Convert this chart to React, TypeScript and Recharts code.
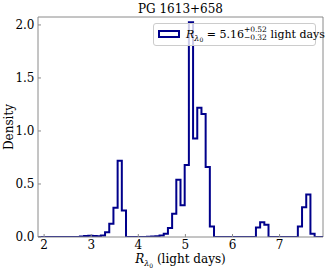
import React from "react";
import {
  LineChart,
  Line,
  XAxis,
  YAxis,
  ReferenceLine,
  Legend,
  Label,
} from "recharts";

// histogram of R_lambda0 (68 equal bins)
const BIN_START = 1.87;
const BIN_WIDTH = 0.089;
const densities = [
  0, 0, 0, 0, 0, 0, 0, 0, 0, 0,
  0.005, 0.01, 0.012, 0.01, 0.006, 0.015,
  0.045, 0.125, 0.275, 0.72, 0.25,
  0, 0, 0, 0, 0, 0.003, 0.005, 0.008,
  0.015, 0.03, 0.085, 0.22, 0.54, 0.3, 0.68, 2.025, 0.93, 1.22, 1.16, 0.66, 0.1,
  0, 0, 0, 0, 0, 0, 0, 0, 0, 0,
  0.09, 0.14, 0.115,
  0, 0, 0, 0, 0, 0, 0,
  0.1, 0.28, 0.4, 0.03, 0, 0,
];

const xTicks = [2, 3, 4, 5, 6, 7];
const yTicks = [0, 0.5, 1, 1.5, 2];
const X_MIN = BIN_START;
const X_MAX = BIN_START + densities.length * BIN_WIDTH;
const Y_MAX = 2.075;

const LINE = "#00008b";
const SPINE = "#8a8a8a";
const FONT = "'DejaVu Serif', serif";

// step outline: one point per left edge, plus the last right edge
const stepData = [
  ...densities.map((d, i) => ({ x: BIN_START + i * BIN_WIDTH, y: d })),
  { x: X_MAX, y: densities[densities.length - 1] },
];

function LegendBox() {
  return (
    <div
      style={{
        position: "relative",
        width: 163,
        height: 23,
        boxSizing: "border-box",
        border: "1px solid #cccccc",
        borderRadius: 3,
        background: "rgba(255,255,255,0.8)",
        fontFamily: FONT,
        fontSize: 11,
        color: "#000",
      }}
    >
      <span
        style={{
          position: "absolute",
          left: 4,
          top: 6,
          width: 22,
          height: 8,
          boxSizing: "border-box",
          border: `2px solid ${LINE}`,
        }}
      />
      <span
        style={{
          position: "absolute",
          left: 32,
          top: 3,
          whiteSpace: "nowrap",
          lineHeight: "13px",
        }}
      >
        <span style={{ fontStyle: "italic" }}>R</span>
        <span style={{ fontSize: 8, fontStyle: "italic", position: "relative", top: 3 }}>
          λ
          <span style={{ fontSize: 6, fontStyle: "normal", position: "relative", top: 1 }}>0</span>
        </span>
        <span> = 5.16</span>
        <span
          style={{
            display: "inline-flex",
            flexDirection: "column",
            fontSize: 7.5,
            lineHeight: "8px",
            verticalAlign: "middle",
            position: "relative",
            top: -1,
          }}
        >
          <span>+0.52</span>
          <span>−0.32</span>
        </span>
        <span> light days</span>
      </span>
    </div>
  );
}

export default function App() {
  return (
    <div
      style={{
        position: "fixed",
        left: 0,
        top: 0,
        width: 327,
        height: 273,
        background: "#fff",
        fontFamily: FONT,
      }}
    >
      <div
        style={{
          position: "absolute",
          top: 2,
          left: 38,
          width: 285,
          textAlign: "center",
          fontSize: 12,
          lineHeight: "14px",
          color: "#000",
        }}
      >
        PG 1613+658
      </div>
      <LineChart
        width={327}
        height={273}
        data={stepData}
        margin={{ top: 17, right: 4, bottom: 0, left: 0 }}
      >
        <XAxis
          dataKey="x"
          type="number"
          domain={[X_MIN, X_MAX]}
          ticks={xTicks}
          allowDataOverflow
          height={36}
          stroke={SPINE}
          tickSize={-3}
          tickMargin={6}
          tick={{ fill: "#000", fontSize: 12, fontFamily: FONT }}
        >
          <Label
            content={({ viewBox }: any) => (
              <text
                x={viewBox.x + viewBox.width / 2}
                y={viewBox.y + 26}
                textAnchor="middle"
                fontFamily={FONT}
                fontSize={12}
                fill="#000"
              >
                <tspan fontStyle="italic">R</tspan>
                <tspan fontStyle="italic" fontSize={8} dy={3}>λ</tspan>
                <tspan fontSize={6} dy={1.5}>0</tspan>
                <tspan dy={-4.5}> (light days)</tspan>
              </text>
            )}
          />
        </XAxis>
        <YAxis
          type="number"
          domain={[0, Y_MAX]}
          ticks={yTicks}
          allowDataOverflow
          width={38}
          stroke={SPINE}
          tickSize={-3}
          tickMargin={6.5}
          tickFormatter={(v: number) => v.toFixed(1)}
          tick={{ fill: "#000", fontSize: 12, fontFamily: FONT }}
        >
          <Label
            content={({ viewBox }: any) => (
              <text
                x={9}
                y={viewBox.y + viewBox.height / 2}
                transform={`rotate(-90, 9, ${viewBox.y + viewBox.height / 2})`}
                textAnchor="middle"
                dominantBaseline="central"
                fontFamily={FONT}
                fontSize={12}
                fill="#000"
              >
                Density
              </text>
            )}
          />
        </YAxis>
        <ReferenceLine y={Y_MAX} stroke={SPINE} />
        <ReferenceLine x={X_MAX} stroke={SPINE} />
        <Line
          type="stepAfter"
          dataKey="y"
          stroke={LINE}
          strokeWidth={2}
          dot={false}
          activeDot={false}
          isAnimationActive={false}
        />
        <Legend
          layout="horizontal"
          verticalAlign="middle"
          align="center"
          content={() => <LegendBox />}
          wrapperStyle={{ left: 153, top: 23, width: 163, height: 23, margin: 0 }}
        />
      </LineChart>
    </div>
  );
}
